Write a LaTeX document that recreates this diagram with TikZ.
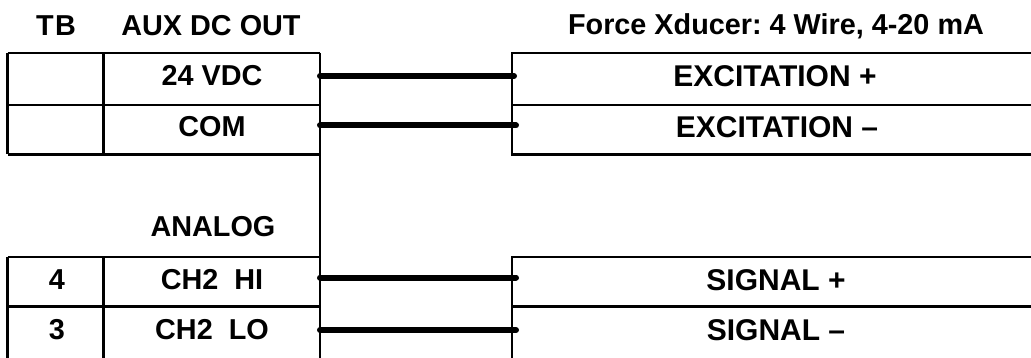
\documentclass[tikz,border=0pt]{standalone}
\usepackage{fontspec}
\setmainfont{Liberation Sans}
\frenchspacing
\tikzset{
    cell/.style={font=\fontsize{28.8}{32}\selectfont\bfseries, inner sep=0pt},
    widecell/.style={font=\fontsize{30}{32}\selectfont\bfseries, inner sep=0pt},
    grid/.style={draw=black, line width=2.5pt},
    wire/.style={draw=black, line width=6pt, line cap=round}
}
\begin{document}
\begin{tikzpicture}[x=1pt,y=-1pt]
    \useasboundingbox (0,0) rectangle (1031,358);
    \draw[grid] (7.5,53) -- (320,53);
    \draw[grid] (7.5,105) -- (320,105);
    \draw[grid] (7.5,154.5) -- (320,154.5);
    \draw[grid] (7.5,53) -- (7.5,154.5);
    \draw[grid] (103.5,53) -- (103.5,154.5);
    \draw[grid] (320,53) -- (320,358);
    \draw[grid] (1031,53) -- (512,53) -- (512,154.5) -- (1031,154.5);
    \draw[grid] (512,105) -- (1031,105);
    \draw[grid] (7.5,257) -- (320,257);
    \draw[grid] (7.5,306.5) -- (320,306.5);
    \draw[grid] (7.5,257) -- (7.5,358);
    \draw[grid] (103.5,257) -- (103.5,358);
    \draw[grid] (1031,257) -- (512,257) -- (512,358);
    \draw[grid] (512,306.5) -- (1031,306.5);
    \node[cell] (tbhead) at (56,26) {T\kern1.5pt B};
    \node[cell] (auxhead) at (211,26) {AUX DC OUT};
    \node[cell] (forcehead) at (776,26) {Force Xducer: 4 Wire, 4-20 mA};
    \node[cell] (vdc) at (212,76) {24 VDC};
    \node[cell] (com) at (212,127) {COM};
    \node[widecell] (exciteplus) at (775,76) {EXCITATION +};
    \node[widecell] (exciteminus) at (777,127) {EXCITATION --};
    \node[cell] (analog) at (213,227) {ANALOG};
    \node[cell] (tbfour) at (57,280) {4};
    \node[cell] (tbthree) at (57,330) {3};
    \node[cell] (chhi) at (212,280) {CH2\ \ HI};
    \node[cell] (chlo) at (212,330) {CH2\ \ LO};
    \node[widecell] (sigplus) at (776,280) {SIGNAL +};
    \node[widecell] (sigminus) at (776,330) {SIGNAL --};
    \coordinate (vdcend) at (320,76);
    \coordinate (comend) at (320,125.5);
    \coordinate (hiend) at (320,277.5);
    \coordinate (loend) at (320,330);
    \coordinate (plusend) at (514,76);
    \coordinate (minusend) at (516,125.5);
    \coordinate (sigplusend) at (516,277.5);
    \coordinate (sigminusend) at (516,330);
    \draw[wire] (vdcend) -- (plusend);
    \draw[wire] (comend) -- (minusend);
    \draw[wire] (hiend) -- (sigplusend);
    \draw[wire] (loend) -- (sigminusend);
\end{tikzpicture}
\end{document}
